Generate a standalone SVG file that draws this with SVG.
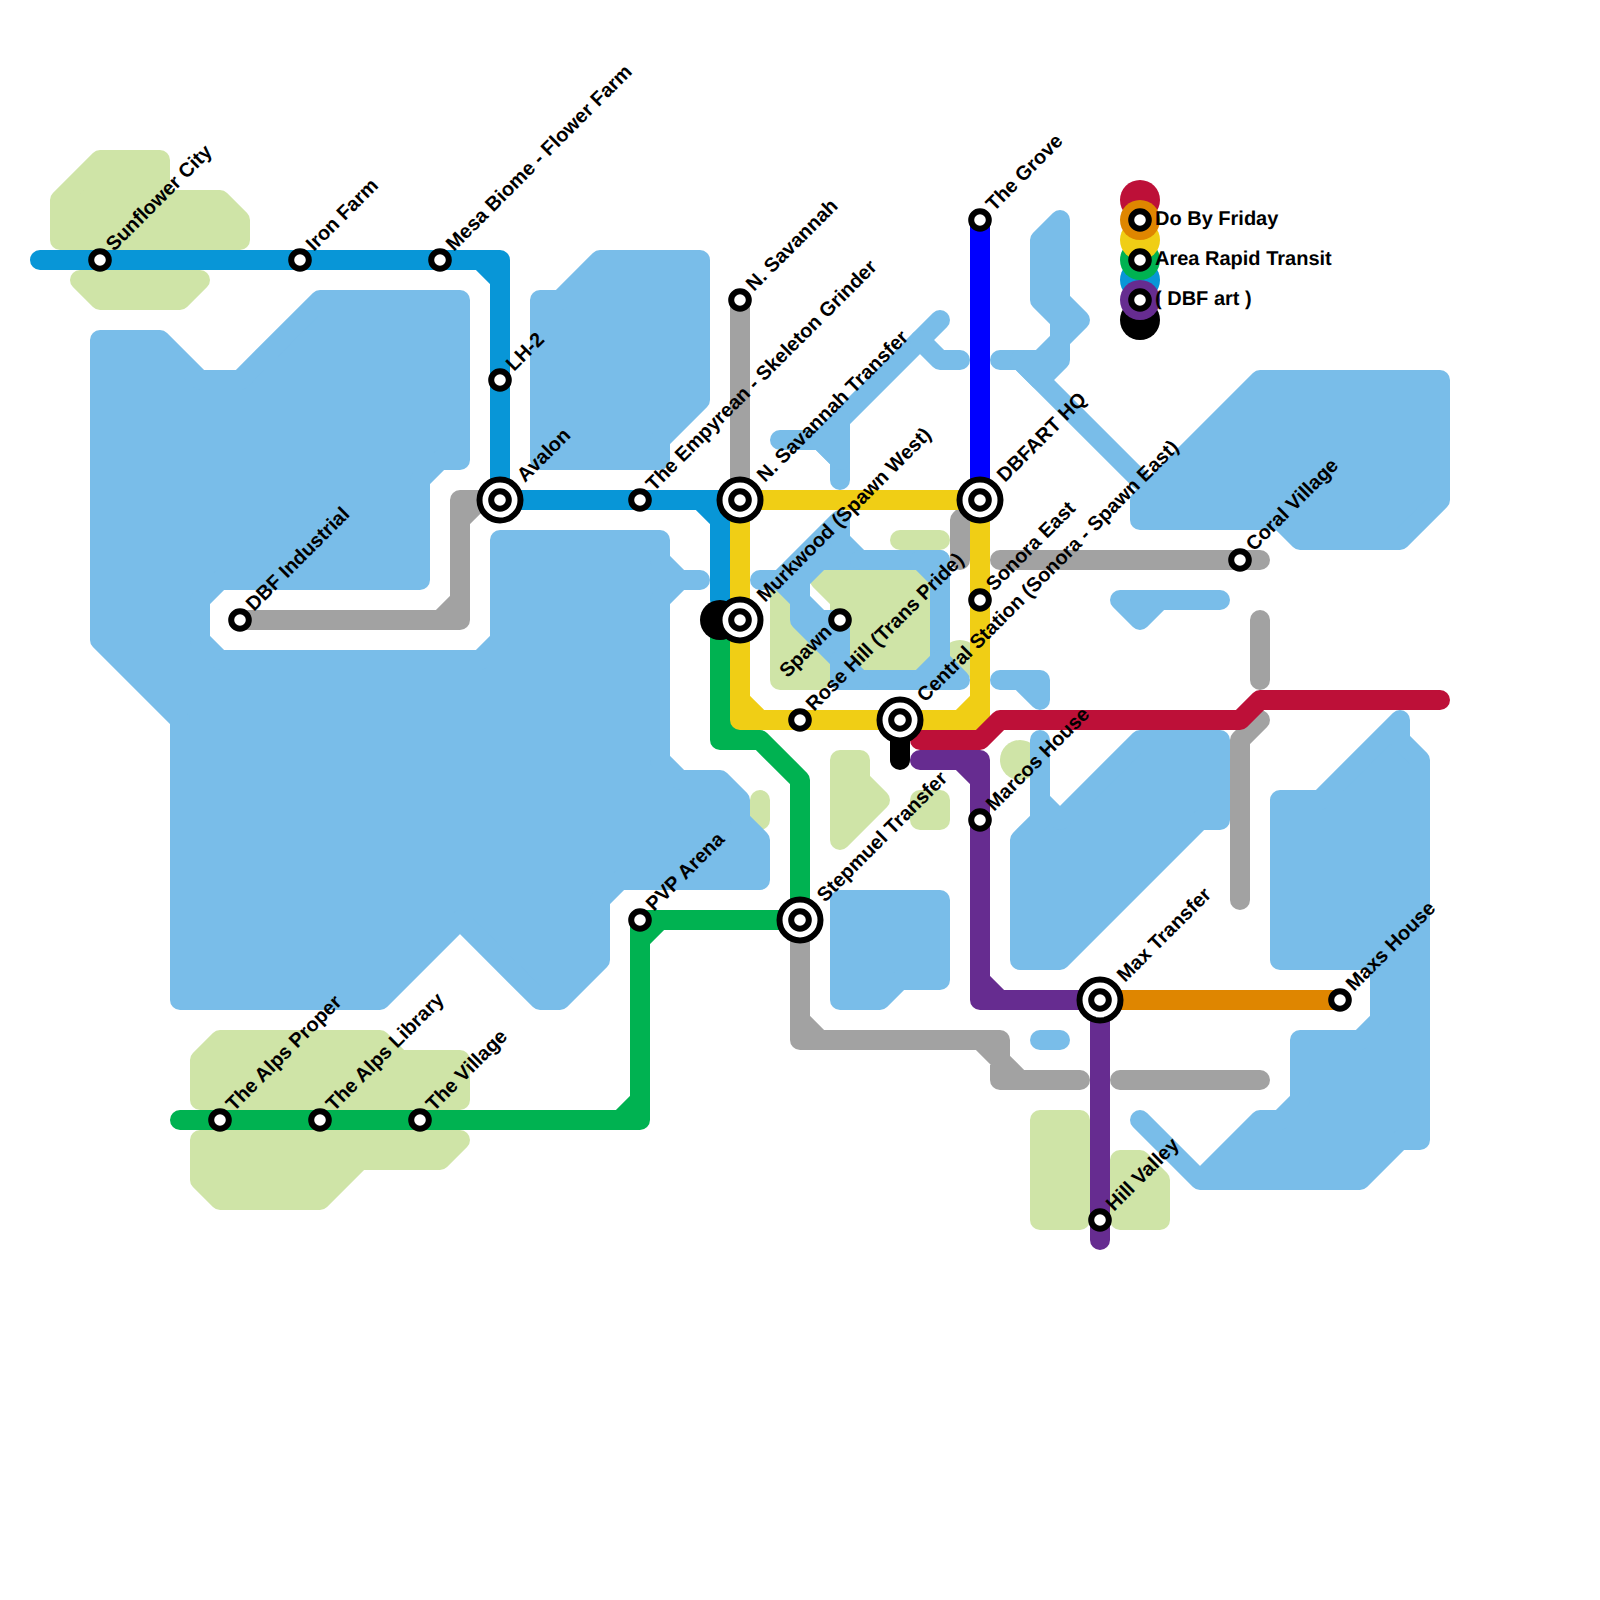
<svg xmlns="http://www.w3.org/2000/svg" width="1600" height="1600" viewBox="0 0 1600 1600">
<style>
.w{fill:#79bde9;stroke:#79bde9;stroke-width:20;stroke-linejoin:round;stroke-linecap:round}
.wl{fill:none;stroke:#79bde9;stroke-width:20;stroke-linejoin:round;stroke-linecap:round}
.p{fill:#cfe4a7;stroke:#cfe4a7;stroke-width:20;stroke-linejoin:round;stroke-linecap:round}
.l{fill:none;stroke-width:20;stroke-linejoin:round;stroke-linecap:round}
.s{fill:#fff;stroke:#000;stroke-width:6}
.o{fill:#fff;stroke:#000;stroke-width:6}
text{font-family:"Liberation Sans",Arial,sans-serif;font-weight:bold;font-size:20px;fill:#000;text-rendering:geometricPrecision}
</style>
<defs>
<g id="st"><circle class="s" r="8.8"/></g>
<g id="ic"><circle class="o" r="20.5"/><circle class="s" r="8.8"/></g>
</defs>
<rect width="1600" height="1600" fill="#fff"/>
<g id="parks">
<path class="p" d="M100 160H160V200H220L240 220V240H60V200Z"/>
<path class="p" d="M80 280H200L180 300H100Z"/>
<path class="p" d="M220 1040H380L400 1060H460V1100H200V1060Z"/>
<path class="p" d="M200 1140H460L440 1160H360L320 1200H220L200 1180Z"/>
<path class="p" d="M840 760H860V780L880 800L840 840Z"/>
<path class="p" d="M760 800V820"/>
<path class="p" d="M920 800H940V820H920Z"/>
<path class="p" d="M1040 1120H1080V1220H1040Z"/>
<path class="p" d="M1120 1160H1140L1160 1180V1220H1120Z"/>
<path class="p" d="M900 540H940"/>
<path class="p" d="M780 590V680H820V640L800 600Z"/>
<path class="p" d="M820 580H920V660H860L840 640V600Z"/>
<circle cx="960" cy="660" r="20" fill="#cfe4a7"/>
<circle cx="1020" cy="760" r="20" fill="#cfe4a7"/>
</g>
<g id="water">
<path class="w" d="M160 340L200 380H240L320 300H460V460H440L420 480V580H220L200 600V640L220 660H480L500 640V540H660V560L680 580H700H680L660 600V760L680 780H720L740 800V820L760 840V880H620L600 900V960L560 1000H540L460 920L380 1000H180V720L100 640V340Z"/>
<path class="w" d="M600 260H700V400L660 440V460H540V300H560Z"/>
<path class="w" d="M1060 220V300L1080 320L1060 340V360L1040 380L1020 360H1000H1040L1060 340V320L1040 300V240Z"/>
<path class="wl" d="M1020 360L1140 480"/>
<path class="w" d="M1260 380H1440V500L1400 540H1300L1280 520H1140V500Z"/>
<path class="wl" d="M940 320L840 420V480M840 460L820 440H780"/>
<path class="w" d="M840 420L840 460L820 440Z"/>
<path class="wl" d="M920 340L940 360H960"/>
<path class="w" d="M760 580H780L840 520V540L860 560H820L800 580V620L840 660V620H820L800 600L780 580Z"/>
<path class="wl" d="M860 560H940V680H840V660M940 660L960 680H940"/>
<path class="w" d="M920 560H940V580Z"/>
<path class="w" d="M940 660V680H920Z"/>
<path class="w" d="M840 660V680H860Z"/>
<path class="w" d="M1120 600H1220H1160L1140 620Z"/>
<path class="w" d="M1000 680H1040V700L1020 680Z"/>
<path class="w" d="M1140 740H1220V820H1200L1060 960H1020V840L1040 820V740V800L1060 820Z"/>
<path class="w" d="M1280 800H1320L1400 720V740L1420 760V1140H1400L1360 1180H1200L1140 1120L1200 1180L1260 1120H1280L1300 1100V1040H1360L1380 1020V960H1280Z"/>
<path class="wl" d="M1040 1040H1060"/>
<path class="w" d="M840 900H940V980H900L880 1000H840Z"/>
</g>
<g id="connectors">
<path class="l" stroke="#a2a2a2" d="M740 300V500M240 620H460V500H500M440 620L460 600M460 520L480 500M980 500L960 520V560M1000 560H1260M1260 620V680M1260 720L1240 740V900M800 920V1040H1000V1080H1080M800 1020L820 1040M980 1040L1000 1060L1020 1080M1120 1080H1260"/>
<path class="l" stroke="#00b251" d="M720 620V740H760L800 780V920H640V1120H180M720 720L740 740M620 1120L640 1100M640 940L660 920"/>
<path class="l" stroke="#0896d7" d="M40 260H500V500M480 260L500 280M500 500H740M700 500L720 520V600"/>
<path class="l" stroke="#0000ff" d="M980 220V500"/>
<path class="l" stroke="#f0ce15" d="M980 500H740V720H980V500M740 700L760 720M960 720L980 700"/>
<path class="l" stroke="#000" d="M900 720V760"/>
<path class="l" stroke="#df8600" d="M1100 1000H1340"/>
<path class="l" stroke="#662c90" d="M920 760H980V1000H1100M960 760L980 780M980 980L1000 1000M1100 1000V1240"/>
<path class="l" stroke="#bd1038" d="M920 740H980L1000 720H1240L1260 700H1440"/>
<circle cx="720" cy="620" r="20" fill="#000"/>
</g>
<g id="legend">
<circle cx="1140" cy="200" r="20" fill="#bd1038"/>
<circle cx="1140" cy="280" r="20" fill="#0896d7"/>
<circle cx="1140" cy="320" r="20" fill="#000"/>
<circle cx="1140" cy="260" r="20" fill="#00b251"/>
<circle cx="1140" cy="240" r="20" fill="#f0ce15"/>
<circle cx="1140" cy="220" r="20" fill="#df8600"/>
<circle cx="1140" cy="300" r="20" fill="#662c90"/>
<g id="legend-do-by-friday"><use href="#st" x="1140" y="220"/><text x="1155" y="225">Do By Friday</text></g>
<g id="legend-area-rapid-transit"><use href="#st" x="1140" y="260"/><text x="1155" y="265">Area Rapid Transit</text></g>
<g id="legend-dbf-art"><use href="#st" x="1140" y="300"/><text x="1155" y="305">( DBF art )</text></g>
</g>
<g id="sunflower-city"><use href="#st" x="100" y="260"/><text transform="translate(114,252) rotate(-45)">Sunflower City</text></g>
<g id="iron-farm"><use href="#st" x="300" y="260"/><text transform="translate(314,252) rotate(-45)">Iron Farm</text></g>
<g id="mesa-biome"><use href="#st" x="440" y="260"/><text transform="translate(454,252) rotate(-45)">Mesa Biome - Flower Farm</text></g>
<g id="lh-2"><use href="#st" x="500" y="380"/><text transform="translate(514,372) rotate(-45)">LH-2</text></g>
<g id="avalon"><use href="#ic" x="500" y="500"/><text transform="translate(525,483) rotate(-45)">Avalon</text></g>
<g id="empyrean"><use href="#st" x="640" y="500"/><text transform="translate(654,492) rotate(-45)">The Empyrean - Skeleton Grinder</text></g>
<g id="n-savannah"><use href="#st" x="740" y="300"/><text transform="translate(754,292) rotate(-45)">N. Savannah</text></g>
<g id="n-savannah-transfer"><use href="#ic" x="740" y="500"/><text transform="translate(765,483) rotate(-45)">N. Savannah Transfer</text></g>
<g id="murkwood"><use href="#ic" x="740" y="620"/><text transform="translate(765,603) rotate(-45)">Murkwood (Spawn West)</text></g>
<g id="spawn"><use href="#st" x="840" y="620"/><text text-anchor="end" transform="translate(833,633) rotate(-45)">Spawn</text></g>
<g id="rose-hill"><use href="#st" x="800" y="720"/><text transform="translate(814,712) rotate(-45)">Rose Hill (Trans Pride)</text></g>
<g id="central-station"><use href="#ic" x="900" y="720"/><text transform="translate(925,703) rotate(-45)">Central Station (Sonora - Spawn East)</text></g>
<g id="the-grove"><use href="#st" x="980" y="220"/><text transform="translate(994,212) rotate(-45)">The Grove</text></g>
<g id="dbfart-hq"><use href="#ic" x="980" y="500"/><text transform="translate(1005,483) rotate(-45)">DBFART HQ</text></g>
<g id="sonora-east"><use href="#st" x="980" y="600"/><text transform="translate(994,592) rotate(-45)">Sonora East</text></g>
<g id="coral-village"><use href="#st" x="1240" y="560"/><text transform="translate(1254,552) rotate(-45)">Coral Village</text></g>
<g id="marcos-house"><use href="#st" x="980" y="820"/><text transform="translate(994,812) rotate(-45)">Marcos House</text></g>
<g id="max-transfer"><use href="#ic" x="1100" y="1000"/><text transform="translate(1125,983) rotate(-45)">Max Transfer</text></g>
<g id="maxs-house"><use href="#st" x="1340" y="1000"/><text transform="translate(1354,992) rotate(-45)">Maxs House</text></g>
<g id="hill-valley"><use href="#st" x="1100" y="1220"/><text transform="translate(1114,1212) rotate(-45)">Hill Valley</text></g>
<g id="stepmuel-transfer"><use href="#ic" x="800" y="920"/><text transform="translate(825,903) rotate(-45)">Stepmuel Transfer</text></g>
<g id="pvp-arena"><use href="#st" x="640" y="920"/><text transform="translate(654,912) rotate(-45)">PVP Arena</text></g>
<g id="alps-proper"><use href="#st" x="220" y="1120"/><text transform="translate(234,1112) rotate(-45)">The Alps Proper</text></g>
<g id="alps-library"><use href="#st" x="320" y="1120"/><text transform="translate(334,1112) rotate(-45)">The Alps Library</text></g>
<g id="the-village"><use href="#st" x="420" y="1120"/><text transform="translate(434,1112) rotate(-45)">The Village</text></g>
<g id="dbf-industrial"><use href="#st" x="240" y="620"/><text transform="translate(254,612) rotate(-45)">DBF Industrial</text></g>
</svg>
